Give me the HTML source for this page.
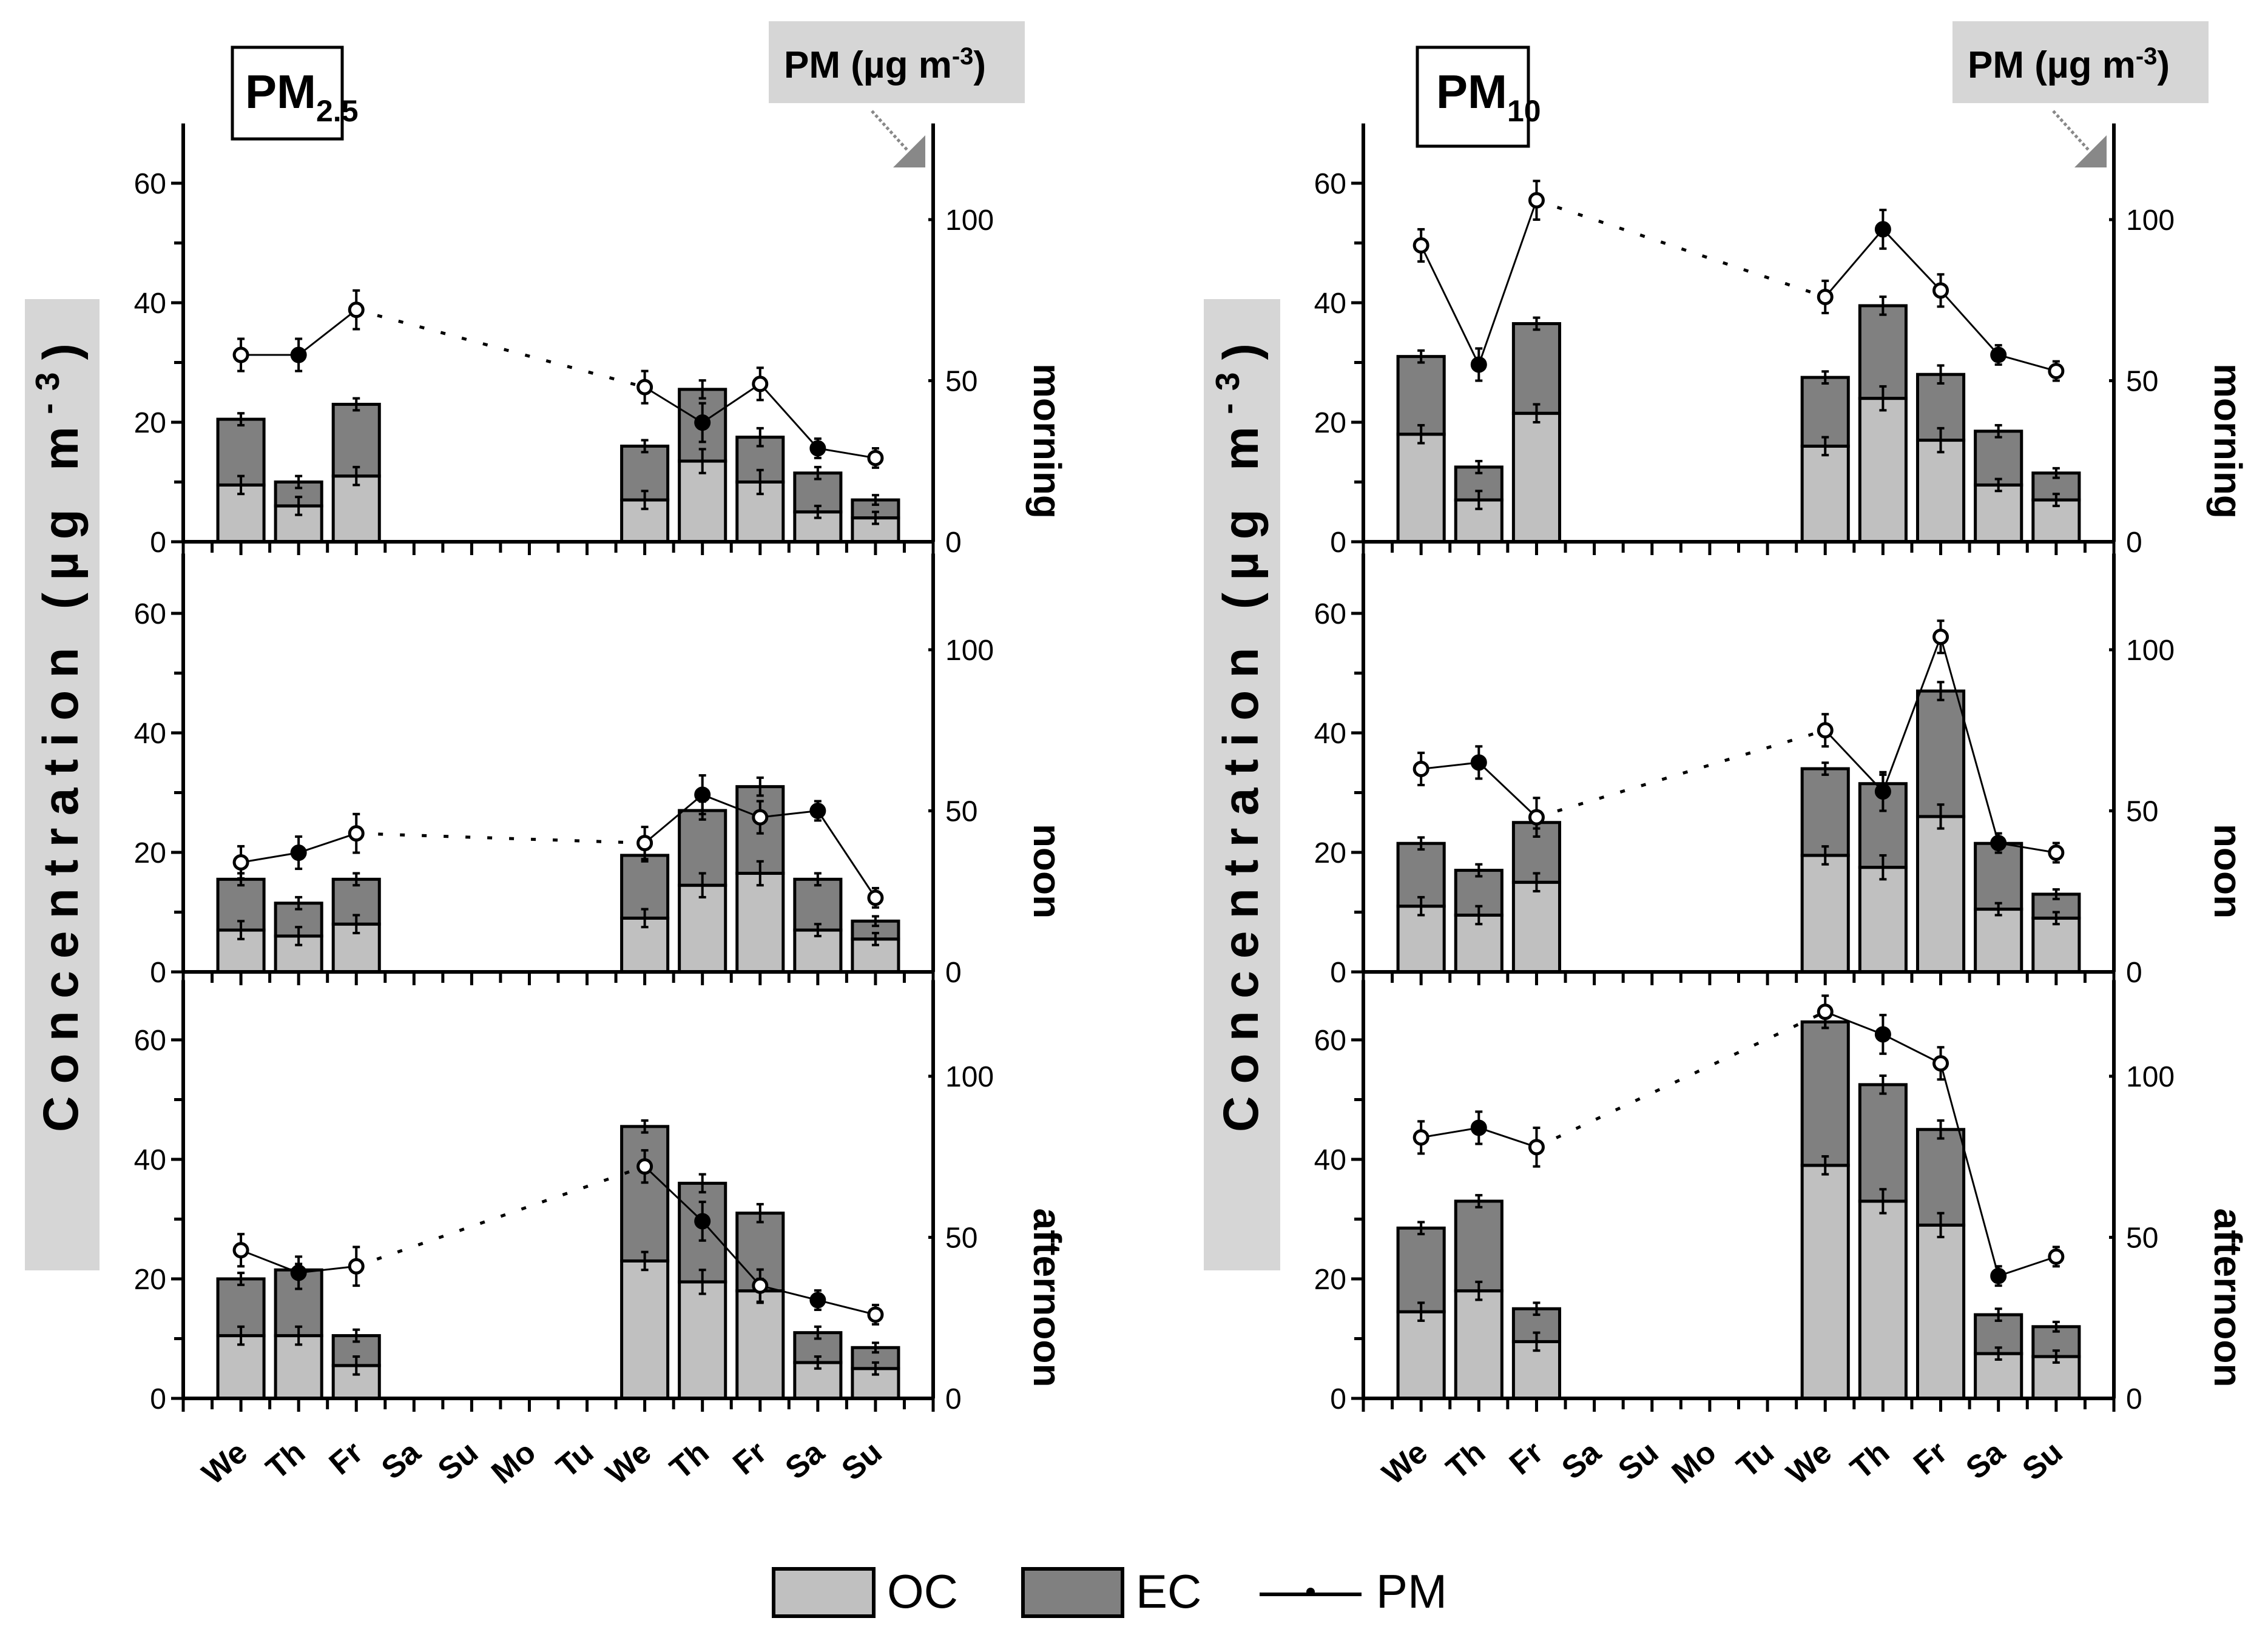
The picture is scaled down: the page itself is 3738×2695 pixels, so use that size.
<!DOCTYPE html>
<html><head><meta charset="utf-8">
<style>
html,body{margin:0;padding:0;background:#fff;}
svg{display:block;font-family:"Liberation Sans",Arial,sans-serif;}
</style></head>
<body>
<svg id="chart" width="3738" height="2695" viewBox="0 0 3738 2695" xmlns="http://www.w3.org/2000/svg">
<g id="static">
  <!-- y-title gray boxes -->
  <rect x="41" y="493" width="123" height="1601" fill="#d6d6d6"/>
  <text transform="translate(128,1866) rotate(-90)" font-size="82" font-weight="bold" textLength="1300" lengthAdjust="spacing">Concentration (µg m<tspan baseline-shift="super" font-size="55">-3</tspan>)</text>
  <rect x="1984" y="493" width="126" height="1601" fill="#d6d6d6"/>
  <text transform="translate(2073,1866) rotate(-90)" font-size="82" font-weight="bold" textLength="1300" lengthAdjust="spacing">Concentration (µg m<tspan baseline-shift="super" font-size="55">-3</tspan>)</text>
  <!-- panel labels -->
  <rect x="383" y="78" width="181" height="151" fill="#fff" stroke="#000" stroke-width="5"/>
  <text x="404" y="178" font-size="78" font-weight="bold">PM<tspan font-size="50" dy="22">2.5</tspan></text>
  <rect x="2336" y="78" width="183" height="163" fill="#fff" stroke="#000" stroke-width="5"/>
  <text x="2367" y="178" font-size="78" font-weight="bold">PM<tspan font-size="50" dy="22">10</tspan></text>
  <!-- PM unit boxes -->
  <rect x="1267" y="35" width="422" height="135" fill="#d6d6d6"/>
  <text x="1292" y="128" font-size="62" font-weight="bold">PM (µg m<tspan baseline-shift="super" font-size="40">-3</tspan>)</text>
  <line x1="1437" y1="183" x2="1495" y2="247" stroke="#888" stroke-width="5" stroke-dasharray="5,4"/>
  <polygon points="1472,276 1525,223 1525,276" fill="#888"/>
  <rect x="3218" y="35" width="422" height="135" fill="#d6d6d6"/>
  <text x="3243" y="128" font-size="62" font-weight="bold">PM (µg m<tspan baseline-shift="super" font-size="40">-3</tspan>)</text>
  <line x1="3384" y1="183" x2="3442" y2="247" stroke="#888" stroke-width="5" stroke-dasharray="5,4"/>
  <polygon points="3419,276 3472,223 3472,276" fill="#888"/>
  <!-- legend -->
  <rect x="1275" y="2586" width="165" height="78" fill="#c0c0c0" stroke="#000" stroke-width="6"/>
  <text x="1462" y="2650" font-size="78">OC</text>
  <rect x="1686" y="2586" width="164" height="78" fill="#808080" stroke="#000" stroke-width="6"/>
  <text x="1872" y="2650" font-size="78">EC</text>
  <line x1="2076" y1="2628" x2="2244" y2="2628" stroke="#000" stroke-width="6"/>
  <circle cx="2160" cy="2624" r="7" fill="#000"/>
  <text x="2268" y="2650" font-size="78">PM</text>
</g>
<g id="plots"></g>
</svg>
<script>
// Categories
const days = ["We","Th","Fr","Sa","Su","Mo","Tu","We","Th","Fr","Sa","Su"];
const dayIdx = [0,1,2,7,8,9,10,11];
const periods = ["morning","noon","afternoon"];
// PM2.5 totals (OC+EC) and OC per period
const pm25TotMorning = [20.5,10,23,16,25.5,17.5,11.5,7];
const pm25OcMorning  = [9.5,6,11,7,13.5,10,5,4];
const pm25PmMorning  = [58,58,72,48,37,49,29,26];
const pm25TotNoon = [15.5,11.5,15.5,19.5,27,31,15.5,8.5];
const pm25OcNoon  = [7,6,8,9,14.5,16.5,7,5.5];
const pm25PmNoon  = [34,37,43,40,55,48,50,23];
const pm25TotAft = [20,21.5,10.5,45.5,36,31,11,8.5];
const pm25OcAft  = [10.5,10.5,5.5,23,19.5,18,6,5];
const pm25PmAft  = [46,39,41,72,55,35,30.5,26];
// PM10
const pm10TotMorning = [31,12.5,36.5,27.5,39.5,28,18.5,11.5];
const pm10OcMorning  = [18,7,21.5,16,24,17,9.5,7];
const pm10PmMorning  = [92,55,106,76,97,78,58,53];
const pm10TotNoon = [21.5,17,25,34,31.5,47,21.5,13];
const pm10OcNoon  = [11,9.5,15,19.5,17.5,26,10.5,9];
const pm10PmNoon  = [63,65,48,75,56,104,40,37];
const pm10TotAft = [28.5,33,15,63,52.5,45,14,12];
const pm10OcAft  = [14.5,18,9.5,39,33,29,7.5,7];
const pm10PmAft  = [81,84,78,120,113,104,38,44];
// error bars
const ocErr = [1.5,1.5,1.5,1.5,2,2,1,1];
const totErr = [1,1,1,1,1.5,1.5,1,0.8];
const pmErr = [5,5,6,5,6,5,3,3];
const pmFilled = [false,true,false,false,true,false,true,false];
const leftTicks = [0,20,40,60];
const rightTicks = [0,50,100];

const NS="http://www.w3.org/2000/svg";
const root=document.getElementById('plots');
function mk(tag,attrs,parent){const e=document.createElementNS(NS,tag);for(const k in attrs)e.setAttribute(k,attrs[k]);(parent||root).appendChild(e);return e;}

const zeros=[893,1602,2305];
const unitL=9.85, unitR=5.31;
const panels=[
 {x0:302,x1:1538,name:"pm25",tot:[pm25TotMorning,pm25TotNoon,pm25TotAft],oc:[pm25OcMorning,pm25OcNoon,pm25OcAft],pm:[pm25PmMorning,pm25PmNoon,pm25PmAft]},
 {x0:2247,x1:3484,name:"pm10",tot:[pm10TotMorning,pm10TotNoon,pm10TotAft],oc:[pm10OcMorning,pm10OcNoon,pm10OcAft],pm:[pm10PmMorning,pm10PmNoon,pm10PmAft]}
];

panels.forEach(P=>{
  const step=(P.x1-P.x0)/13;
  const xS=i=>P.x0+(i+1)*step;
  const bw=step*0.8;
  for(let p=0;p<3;p++){
    const z=zeros[p];
    const yL=v=>z-v*unitL, yR=v=>z-v*unitR;
    const top=z-70*unitL;
    const g=mk('g',{});
    
    
    // bars
    dayIdx.forEach((d,k)=>{
      const cx=xS(d), t=P.tot[p][k], o=P.oc[p][k];
      const r1=mk('rect',{x:cx-bw/2,y:yL(o),width:bw,height:o*unitL,fill:'#c0c0c0',stroke:'#000','stroke-width':5},g);
      
      
      const r2=mk('rect',{x:cx-bw/2,y:yL(t),width:bw,height:(t-o)*unitL,fill:'#808080',stroke:'#000','stroke-width':5},g);
      
      
      [[o,ocErr[k]],[t,totErr[k]]].forEach(([v,e])=>{
        mk('line',{x1:cx,x2:cx,y1:yL(v+e),y2:yL(v-e),stroke:'#000','stroke-width':4},g);
        mk('line',{x1:cx-6,x2:cx+6,y1:yL(v+e),y2:yL(v+e),stroke:'#000','stroke-width':4},g);
        mk('line',{x1:cx-6,x2:cx+6,y1:yL(v-e),y2:yL(v-e),stroke:'#000','stroke-width':4},g);
      });
    });
    // PM line
    const pts=dayIdx.map((d,k)=>[xS(d),yR(P.pm[p][k])]);
    const seg=(a,b,dash)=>mk('line',{x1:pts[a][0],y1:pts[a][1],x2:pts[b][0],y2:pts[b][1],stroke:'#000','stroke-width':dash?5:3,'stroke-dasharray':dash?'8,28':'none'},g);
    seg(0,1);seg(1,2);seg(2,3,true);
    for(let k=3;k<7;k++)seg(k,k+1);
    dayIdx.forEach((d,k)=>{
      const cx=pts[k][0],cy=pts[k][1],e=pmErr[k]*unitR;
      mk('line',{x1:cx,x2:cx,y1:cy-e,y2:cy+e,stroke:'#000','stroke-width':4},g);
      mk('line',{x1:cx-6,x2:cx+6,y1:cy-e,y2:cy-e,stroke:'#000','stroke-width':4},g);
      mk('line',{x1:cx-6,x2:cx+6,y1:cy+e,y2:cy+e,stroke:'#000','stroke-width':4},g);
      const c=mk('circle',{cx:cx,cy:cy,r:11,fill:pmFilled[k]?'#000':'#fff',stroke:'#000','stroke-width':5},g);
      
      
    });
    // axes
    mk('line',{x1:P.x0,x2:P.x0,y1:top,y2:z,stroke:'#000','stroke-width':6},g);
    mk('line',{x1:P.x1,x2:P.x1,y1:top,y2:z,stroke:'#000','stroke-width':6},g);
    mk('line',{x1:P.x0,x2:P.x1,y1:z,y2:z,stroke:'#000','stroke-width':6},g);
    for(let v=0;v<=60;v+=10){
      mk('line',{x1:P.x0-(v%20?15:20),x2:P.x0,y1:yL(v),y2:yL(v),stroke:'#000','stroke-width':5},g);
    }
    leftTicks.forEach(v=>{
      const t=mk('text',{x:P.x0-28,y:yL(v)+17,'font-size':48,'text-anchor':'end'},g);
      t.textContent=v;
      
      
    });
    rightTicks.forEach(v=>{
      mk('line',{x1:P.x1-8,x2:P.x1,y1:yR(v),y2:yR(v),stroke:'#000','stroke-width':5},g);
      const t=mk('text',{x:P.x1+20,y:yR(v)+17,'font-size':48},g);
      t.textContent=v;
      
      
    });
    // x ticks
    for(let h=-2;h<=24;h++){
      const xx=P.x0+(h/2+1)*step;
      if(xx>P.x1+1)break;
      mk('line',{x1:xx,x2:xx,y1:z,y2:z+(h%2===0?22:18),stroke:'#000','stroke-width':5},g);
    }
    // period label
    const pl=mk('text',{transform:`translate(${P.x1+166},${z-166}) rotate(90)`,'font-size':64,'font-weight':'bold','text-anchor':'middle'},g);
    pl.textContent=periods[p];
    
    
  }
  // x labels
  const zb=zeros[2];
  days.forEach((d,i)=>{
    const t=mk('text',{transform:`translate(${xS(i)+14},${zb+95}) rotate(-40)`,'font-size':52,'font-weight':'bold','text-anchor':'end'});
    t.textContent=d;
    
    
  });
});
</script>
</body></html>
